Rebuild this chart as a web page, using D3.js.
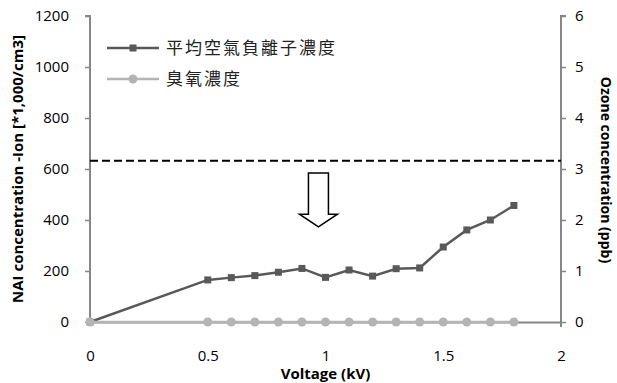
<!DOCTYPE html>
<html>
<head>
<meta charset="utf-8">
<script src="https://cdn.jsdelivr.net/npm/d3@7"></script>
<style>
  body { margin: 0; background: #fff; }
  text { font-family: "Open Sans", sans-serif; }
</style>
</head>
<body>
<svg></svg>
<script>
var width = 617;
var height = 383;

// data
var voltage = [0, 0.5, 0.6, 0.7, 0.8, 0.9, 1.0, 1.1, 1.2, 1.3, 1.4, 1.5, 1.6, 1.7, 1.8];
var naiValues = [0, 165, 174, 182, 195, 210, 175, 204, 180, 209, 212, 294, 361, 400, 457];
var ozoneValues = [0, 0, 0, 0, 0, 0, 0, 0, 0, 0, 0, 0, 0, 0, 0];
var seriesNames = ['平均空氣負離子濃度', '臭氧濃度'];
var xTicks = [0, 0.5, 1, 1.5, 2];
var leftTicks = [0, 200, 400, 600, 800, 1000, 1200];
var rightTicks = [0, 1, 2, 3, 4, 5, 6];
var thresholdValue = 632;
// arrow annotation: x in kV, top and tip in NAI units
var arrowX = 0.97, arrowTop = 584, arrowHeadBase = 423, arrowTip = 373;

var svg = d3.select('svg')
    .attr('width', width)
    .attr('height', height);

var margin = { left: 90, right: 56, top: 16, bottom: 61 };

var x = d3.scaleLinear().domain([0, 2]).range([margin.left, width - margin.right]);
var yL = d3.scaleLinear().domain([0, 1200]).range([height - margin.bottom, margin.top]);
var yR = d3.scaleLinear().domain([0, 6]).range([height - margin.bottom, margin.top]);

var axisColor = '#868686';
var naiColor = '#595959';
var ozoneColor = '#b4b4b4';
var plain = function (d) { return String(d); };

//..................................................................................//
// axes

var gx = svg.append('g')
    .attr('transform', 'translate(0,' + yL(0) + ')')
    .call(d3.axisBottom(x).tickValues(xTicks).tickSize(0).tickPadding(28).tickFormat(plain));

var gl = svg.append('g')
    .attr('transform', 'translate(' + x(0) + ',0)')
    .call(d3.axisLeft(yL).tickValues(leftTicks).tickSize(5).tickPadding(16).tickFormat(plain));

var gr = svg.append('g')
    .attr('transform', 'translate(' + x(2) + ',0)')
    .call(d3.axisRight(yR).tickValues(rightTicks).tickSize(5).tickPadding(9).tickFormat(plain));

[gx, gl, gr].forEach(function (g) {
    g.select('.domain').attr('stroke', axisColor).attr('stroke-width', 2);
    g.selectAll('.tick line').attr('stroke', axisColor).attr('stroke-width', 1.5);
    g.selectAll('.tick text')
        .attr('fill', '#000')
        .style('font-size', '15px')
        .style('font-family', '"Open Sans", sans-serif');
});
gl.select('.domain').attr('d', 'M-5,' + yL(1200) + 'H0V' + yL(0));
gr.select('.domain').attr('d', 'M5,' + yR(6) + 'H0V' + (yR(0) + 5));

// axis titles
svg.append('text')
    .attr('x', x(1))
    .attr('y', 379)
    .attr('text-anchor', 'middle')
    .style('font-size', '15px')
    .style('font-weight', 'bold')
    .text('Voltage (kV)');

svg.append('text')
    .attr('transform', 'translate(23,' + ((yL(0) + yL(1200)) / 2) + ') rotate(-90)')
    .attr('text-anchor', 'middle')
    .style('font-size', '15px')
    .style('font-weight', 'bold')
    .text('NAI concentration -Ion [*1,000/cm3]');

svg.append('text')
    .attr('transform', 'translate(601,' + ((yR(0) + yR(6)) / 2 + 1) + ') rotate(90)')
    .attr('text-anchor', 'middle')
    .style('font-size', '14px')
    .style('font-weight', 'bold')
    .text('Ozone concentration (ppb)');

//..................................................................................//
// threshold line and arrow

svg.append('line')
    .attr('x1', x(0)).attr('x2', x(2))
    .attr('y1', yL(thresholdValue)).attr('y2', yL(thresholdValue))
    .attr('stroke', '#000')
    .attr('stroke-width', 2)
    .attr('stroke-dasharray', '8,4');

var ax = x(arrowX);
var arrowPts = [
    [ax - 10, yL(arrowTop)], [ax + 10, yL(arrowTop)], [ax + 10, yL(arrowHeadBase)],
    [ax + 19, yL(arrowHeadBase)], [ax, yL(arrowTip)], [ax - 19, yL(arrowHeadBase)],
    [ax - 10, yL(arrowHeadBase)]
];
svg.append('polygon')
    .attr('points', arrowPts.map(function (p) { return p.join(','); }).join(' '))
    .attr('fill', '#fff')
    .attr('stroke', '#000')
    .attr('stroke-width', 1.5);

//..................................................................................//
// series

var naiData = voltage.map(function (v, i) { return { x: v, y: naiValues[i] }; });
var ozoneData = voltage.map(function (v, i) { return { x: v, y: ozoneValues[i] }; });

var naiLine = d3.line().x(function (d) { return x(d.x); }).y(function (d) { return yL(d.y); });
var ozoneLine = d3.line().x(function (d) { return x(d.x); }).y(function (d) { return yR(d.y); });

svg.append('path')
    .datum(naiData)
    .attr('d', naiLine)
    .attr('fill', 'none')
    .attr('stroke', naiColor)
    .attr('stroke-width', 2.5);

svg.selectAll('rect.nai')
    .data(naiData)
    .enter()
    .append('rect')
    .attr('class', 'nai')
    .attr('x', function (d) { return x(d.x) - 3.5; })
    .attr('y', function (d) { return yL(d.y) - 3.5; })
    .attr('width', 7)
    .attr('height', 7)
    .attr('fill', naiColor);

svg.append('path')
    .datum(ozoneData)
    .attr('d', ozoneLine)
    .attr('fill', 'none')
    .attr('stroke', ozoneColor)
    .attr('stroke-width', 2.5);

svg.selectAll('circle.ozone')
    .data(ozoneData)
    .enter()
    .append('circle')
    .attr('class', 'ozone')
    .attr('cx', function (d) { return x(d.x); })
    .attr('cy', function (d) { return yR(d.y); })
    .attr('r', 4.5)
    .attr('fill', ozoneColor);

//..................................................................................//
// legend

var legend = svg.append('g').attr('transform', 'translate(107,48)');
var legendColors = [naiColor, ozoneColor];

seriesNames.forEach(function (name, i) {
    var g = legend.append('g').attr('transform', 'translate(0,' + (i * 31) + ')');
    g.append('line')
        .attr('x1', 0).attr('x2', 52)
        .attr('stroke', legendColors[i])
        .attr('stroke-width', 2.5);
    if (i === 0) {
        g.append('rect').attr('x', 22.5).attr('y', -3.5).attr('width', 7).attr('height', 7)
            .attr('fill', legendColors[i]);
    } else {
        g.append('circle').attr('cx', 26).attr('cy', 0).attr('r', 4.5)
            .attr('fill', legendColors[i]);
    }
    g.append('text')
        .attr('x', 59)
        .attr('dy', '0.36em')
        .style('font-family', '"Noto Sans CJK TC", sans-serif')
        .style('font-size', '17px')
        .style('letter-spacing', '2px')
        .attr('fill', '#222')
        .text(name);
});
</script>
</body>
</html>
